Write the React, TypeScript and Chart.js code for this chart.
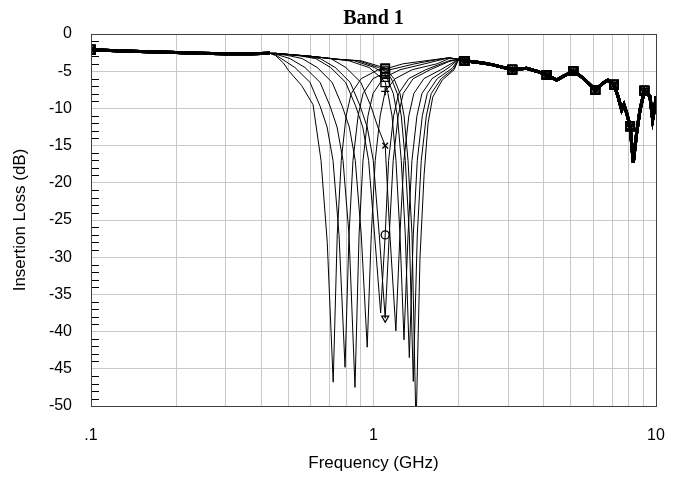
import { useEffect, useRef } from "react";
import { Chart, registerables } from "chart.js";

Chart.register(...registerables);

// ---- shared low band (GHz, dB) ----
const lowFreq = [0.1, 0.13, 0.16, 0.2, 0.24, 0.3, 0.37, 0.43];
const lowLoss = [-2.1, -2.3, -2.4, -2.5, -2.6, -2.65, -2.65, -2.6];

// ---- shared high band (GHz, dB) ----
const highFreq = [2.0, 2.1, 2.44, 2.65, 3.1, 3.48, 3.78, 4.1, 4.45, 4.69, 5.1, 5.51, 6.1, 6.49, 6.75, 7.1, 7.34, 7.56, 7.7, 7.87, 8.1, 8.31, 8.54, 8.78, 9.1, 9.52, 9.73, 9.92, 10.0];
const highLoss = [-3.4, -3.6, -3.9, -4.15, -4.8, -4.6, -5.0, -5.5, -6.2, -5.7, -5.0, -5.9, -7.5, -6.6, -6.2, -6.8, -8.4, -10.2, -9.5, -10.6, -12.4, -17.3, -13.3, -10.2, -7.6, -8.4, -11.5, -9.7, -8.4];

// ---- tuned notch region of each trace: [GHz, dB] ----
const notch1 = [[0.45, -2.9], [0.48, -3.9], [0.5, -4.9], [0.556, -6.9], [0.611, -9.5], [0.652, -17], [0.686, -28], [0.72, -46.8], [0.744, -27], [0.769, -17], [0.8, -11], [0.834, -8], [0.905, -6], [1.039, -4.8], [1.1, -4.7], [1.274, -4.0], [1.6, -3.5], [1.85, -3.2]];
const notch2 = [[0.45, -2.8], [0.467, -3.2], [0.527, -4.5], [0.596, -6.5], [0.647, -9.7], [0.685, -12.5], [0.719, -17], [0.755, -27], [0.793, -44.8], [0.819, -27], [0.846, -17], [0.882, -11], [0.918, -8], [0.996, -6], [1.1, -5.2], [1.144, -4.8], [1.403, -4.0], [1.7, -3.4], [1.85, -3.2]];
const notch3 = [[0.45, -2.7], [0.506, -3.3], [0.572, -4.5], [0.647, -6.5], [0.702, -9.7], [0.743, -12.5], [0.78, -17], [0.819, -27], [0.86, -47.5], [0.889, -27], [0.918, -17], [0.956, -11], [0.996, -8], [1.08, -6], [1.1, -5.8], [1.241, -4.8], [1.521, -4.0], [1.85, -3.2]];
const notch4 = [[0.45, -2.65], [0.5, -2.9], [0.559, -3.3], [0.632, -4.5], [0.714, -6.5], [0.775, -9.7], [0.821, -12.5], [0.862, -17], [0.905, -27], [0.95, -42.1], [0.982, -27], [1.014, -17], [1.056, -11], [1.1, -7.7], [1.193, -6], [1.371, -4.8], [1.68, -4.0], [1.85, -3.3]];
const notch5 = [[0.45, -2.6], [0.55, -2.95], [0.624, -3.3], [0.705, -4.5], [0.797, -6.5], [0.865, -9.7], [0.916, -12.5], [0.961, -17], [1.009, -27], [1.06, -37.5], [1.1, -27], [1.131, -17], [1.178, -11], [1.227, -8], [1.332, -6], [1.53, -4.8], [1.85, -3.6]];
const notch6 = [[0.45, -2.6], [0.55, -2.9], [0.647, -3.3], [0.732, -4.5], [0.827, -6.5], [0.897, -9.7], [0.95, -12.5], [0.998, -17], [1.048, -27], [1.1, -38.2], [1.137, -27], [1.174, -17], [1.223, -11], [1.274, -8], [1.382, -6], [1.587, -4.8], [1.85, -3.7]];
const notch7 = [[0.45, -2.6], [0.6, -3.0], [0.706, -3.3], [0.798, -4.5], [0.902, -6.5], [0.979, -9.7], [1.036, -12.5], [1.1, -15], [1.143, -27], [1.2, -39.9], [1.24, -27], [1.281, -17], [1.334, -11], [1.389, -8], [1.508, -6], [1.73, -4.8], [1.88, -4.0]];
const notch8 = [[0.45, -2.6], [0.6, -3.0], [0.7, -3.3], [0.819, -3.6], [0.964, -4.5], [1.072, -6], [1.1, -6.5], [1.125, -8], [1.163, -11], [1.201, -17], [1.241, -27], [1.282, -41.1], [1.325, -27], [1.368, -17], [1.425, -11], [1.484, -8], [1.611, -6], [1.85, -4.5]];
const notch9 = [[0.45, -2.6], [0.6, -3.0], [0.75, -3.4], [0.856, -3.6], [1.007, -4.5], [1.1, -5.4], [1.119, -6], [1.175, -8], [1.215, -11], [1.254, -17], [1.296, -27], [1.339, -43.5], [1.383, -27], [1.429, -17], [1.489, -11], [1.55, -8], [1.682, -6], [1.9, -4.6]];
const notch10 = [[0.45, -2.6], [0.6, -3.0], [0.75, -3.4], [0.884, -3.6], [1.04, -4.5], [1.1, -5.0], [1.156, -6], [1.214, -8], [1.254, -11], [1.296, -17], [1.339, -27], [1.383, -46.7], [1.429, -27], [1.476, -17], [1.538, -11], [1.601, -8], [1.737, -6], [1.92, -4.7]];
const notch11 = [[0.45, -2.6], [0.6, -3.0], [0.75, -3.4], [0.904, -3.6], [1.063, -4.4], [1.1, -4.6], [1.182, -6], [1.241, -8], [1.283, -11], [1.325, -17], [1.369, -27], [1.414, -53], [1.461, -30], [1.51, -19], [1.56, -12], [1.62, -8.5], [1.75, -6.2], [1.93, -4.8]];

const notches = [notch1, notch2, notch3, notch4, notch5, notch6, notch7, notch8, notch9, notch10, notch11];
const markerStyles = ["rect", "rect", "rect", "cross", "circle", "triangle", "crossRot", "rect", "rect", "rect", "rect"];
const markerRotations = [0, 0, 0, 0, 0, 180, 0, 0, 0, 0, 0];

const markerFreqs = [0.1, 1.1, 2.1, 3.1, 4.1, 5.1, 6.1, 7.1, 8.1, 9.1];
const gridFreqs = [0.1, 0.2, 0.3, 0.4, 0.5, 0.6, 0.7, 0.8, 0.9, 1, 2, 3, 4, 5, 6, 7, 8, 9, 10];
const xTickLabels: Record<string, string> = { "0.1": ".1", "1": "1", "10": "10" };

const TITLE = "Band 1";
const X_TITLE = "Frequency (GHz)";
const Y_TITLE = "Insertion Loss (dB)";

const isMarker = (x: number) => markerFreqs.some((m) => Math.abs(m - x) < 1e-6);

const decorPlugin = {
  id: "decor",
  afterDraw(chart: any) {
    const { ctx, chartArea } = chart;
    const { left, right, top, bottom } = chartArea;
    const yScale = chart.scales.y;
    ctx.save();
    ctx.strokeStyle = "#000";
    ctx.lineWidth = 1;
    for (let v = -49; v <= -1; v++) {
      if (v % 5 === 0) continue;
      const py = Math.round(yScale.getPixelForValue(v)) + 0.5;
      ctx.beginPath();
      ctx.moveTo(left, py);
      ctx.lineTo(left + 8, py);
      ctx.stroke();
    }
    ctx.strokeStyle = "#404040";
    ctx.strokeRect(Math.round(left) + 0.5, Math.round(top) + 0.5, Math.round(right - left), Math.round(bottom - top));
    const cx = (left + right) / 2;
    ctx.fillStyle = "#000";
    ctx.textAlign = "center";
    ctx.textBaseline = "alphabetic";
    ctx.font = "bold 20px 'Liberation Serif', serif";
    ctx.fillText(TITLE, cx, 24);
    ctx.font = "17px 'Liberation Sans', Arial, sans-serif";
    ctx.textBaseline = "middle";
    ctx.fillText(X_TITLE, cx, 463);
    ctx.translate(20, (top + bottom) / 2);
    ctx.rotate(-Math.PI / 2);
    ctx.fillText(Y_TITLE, 0, 0);
    ctx.restore();
  },
};

export default function App() {
  const ref = useRef<HTMLCanvasElement | null>(null);
  useEffect(() => {
    if (!ref.current) return;
    const datasets = notches.map((notch, i) => ({
      data: [
        ...lowFreq.map((f, j) => ({ x: f, y: lowLoss[j] })),
        ...notch.map(([f, y]) => ({ x: f, y })),
        ...highFreq.map((f, j) => ({ x: f, y: highLoss[j] })),
      ],
      borderColor: "#000",
      borderWidth: 1,
      tension: 0,
      fill: false,
      pointStyle: markerStyles[i],
      pointRotation: markerRotations[i],
      pointRadius: (c: any) => (c.raw && isMarker(c.raw.x) ? (markerStyles[i] === "rect" ? 6 : 4) : 0),
      pointBorderColor: "#000",
      pointBackgroundColor: "rgba(0,0,0,0)",
      pointBorderWidth: 1.3,
      segment: {
        borderWidth: (c: any) => (c.p1.parsed.x <= 0.431 || c.p0.parsed.x >= 1.999 ? 3 : 1),
      },
    }));
    const chart = new Chart(ref.current, {
      type: "line",
      data: { datasets },
      options: {
        responsive: false,
        animation: false,
        events: [],
        layout: { padding: { top: 34, right: 23, left: 0, bottom: 0 } },
        plugins: { legend: { display: false }, tooltip: { enabled: false }, title: { display: false } },
        scales: {
          x: {
            type: "logarithmic",
            min: 0.1,
            max: 10,
            afterBuildTicks: (s: any) => {
              s.ticks = gridFreqs.map((v) => ({ value: v }));
            },
            afterFit: (s: any) => {
              s.height = 71;
              s.paddingLeft = 0;
              s.paddingRight = 0;
            },
            ticks: {
              autoSkip: false,
              maxRotation: 0,
              minRotation: 0,
              padding: 20,
              color: "#000",
              font: { size: 16, family: "'Liberation Sans', Arial, sans-serif" },
              callback: (v: any) => xTickLabels[String(+Number(v).toPrecision(6))] ?? "",
            },
            grid: { color: "#c8c8c8", drawTicks: false },
            border: { display: false },
          },
          y: {
            type: "linear",
            min: -50,
            max: 0,
            afterFit: (s: any) => {
              s.width = 91;
            },
            ticks: {
              stepSize: 5,
              padding: 19,
              color: "#000",
              font: { size: 16, family: "'Liberation Sans', Arial, sans-serif" },
              callback: (v: any) => String(v),
            },
            grid: { color: "#c8c8c8", drawTicks: false },
            border: { display: false },
          },
        },
      } as any,
      plugins: [decorPlugin],
    });
    return () => chart.destroy();
  }, []);
  return (
    <div style={{ position: "absolute", left: 0, top: 0, width: 679, height: 477, background: "#fff" }}>
      <canvas ref={ref} width={679} height={477} style={{ width: 679, height: 477 }} />
    </div>
  );
}
